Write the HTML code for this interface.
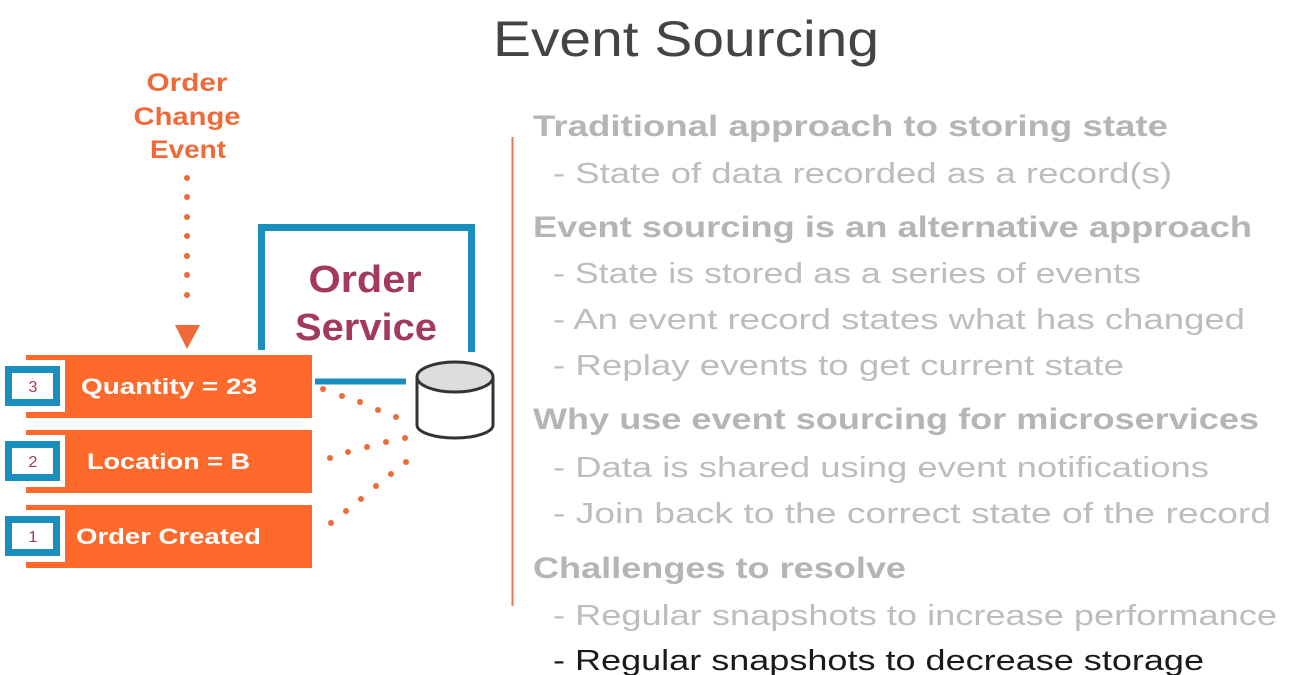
<!DOCTYPE html>
<html><head><meta charset="utf-8"><style>html,body{margin:0;padding:0;background:#fff}svg{display:block}</style></head>
<body>
<svg width="1296" height="675" viewBox="0 0 1296 675" xmlns="http://www.w3.org/2000/svg" font-family="Liberation Sans, sans-serif">
<text x="686" y="56" text-anchor="middle" font-size="50" fill="#444" textLength="386" lengthAdjust="spacingAndGlyphs">Event Sourcing</text>
<g font-weight="bold" fill="#ef6a38" font-size="25" text-anchor="middle">
<text x="187" y="91" textLength="81" lengthAdjust="spacingAndGlyphs">Order</text><text x="187" y="125" textLength="107" lengthAdjust="spacingAndGlyphs">Change</text><text x="188" y="158" textLength="76" lengthAdjust="spacingAndGlyphs">Event</text>
</g>
<g fill="#ef6a38">
<circle cx="187" cy="178" r="3"/><circle cx="187" cy="197" r="3"/><circle cx="187" cy="217" r="3"/><circle cx="187" cy="236" r="3"/><circle cx="187" cy="256" r="3"/><circle cx="187" cy="275" r="3"/><circle cx="187" cy="295" r="3"/>
<polygon points="175,325 200,325 187,349"/>
</g>
<path d="M261.5,350 V227.5 H471.5 V352" fill="none" stroke="#1a8fbd" stroke-width="7"/>
<line x1="315" y1="381.5" x2="406" y2="381.5" stroke="#1a8fbd" stroke-width="6"/>
<g font-weight="bold" fill="#a3395e" font-size="38" text-anchor="middle"><text x="365" y="292" textLength="113" lengthAdjust="spacingAndGlyphs">Order</text><text x="366" y="340" textLength="142" lengthAdjust="spacingAndGlyphs">Service</text></g>
<g fill="#fd6a2c"><rect x="26" y="355" width="286" height="63"/><rect x="26" y="430" width="286" height="63"/><rect x="26" y="505" width="286" height="63"/></g>
<g fill="#fff"><rect x="3" y="360" width="62" height="52"/><rect x="3" y="435" width="62" height="52"/><rect x="3" y="510" width="62" height="52"/></g>
<g fill="#fff" stroke="#1a8fbd" stroke-width="7"><rect x="8.5" y="369.5" width="48" height="33"/><rect x="8.5" y="444.5" width="48" height="33"/><rect x="8.5" y="519.5" width="48" height="33"/></g>
<g fill="#a3395e" font-size="16" text-anchor="middle"><text x="33" y="392">3</text><text x="33" y="467">2</text><text x="33" y="542">1</text></g>
<g fill="#fff" font-weight="bold" font-size="22"><text x="81" y="394" textLength="176" lengthAdjust="spacingAndGlyphs">Quantity = 23</text><text x="87" y="469" textLength="163" lengthAdjust="spacingAndGlyphs">Location = B</text><text x="76" y="544" textLength="185" lengthAdjust="spacingAndGlyphs">Order Created</text></g>
<g fill="#ef6a38">
<circle cx="323" cy="389" r="3"/><circle cx="342" cy="396" r="3"/><circle cx="360" cy="402" r="3"/><circle cx="378" cy="410" r="3"/><circle cx="396" cy="417" r="3"/>
<circle cx="330" cy="458" r="3"/><circle cx="348" cy="452" r="3"/><circle cx="367" cy="447" r="3"/><circle cx="386" cy="442" r="3"/><circle cx="405" cy="438" r="3"/>
<circle cx="331" cy="523" r="3"/><circle cx="346" cy="511" r="3"/><circle cx="361" cy="499" r="3"/><circle cx="376" cy="486" r="3"/><circle cx="391" cy="474" r="3"/><circle cx="406" cy="462" r="3"/>
</g>
<path d="M417,377 V425 A38,13 0 0 0 493,425 V377" fill="#fff" stroke="#333" stroke-width="3"/>
<ellipse cx="455" cy="377" rx="38" ry="15" fill="#ddd" stroke="#333" stroke-width="3"/>
<line x1="512.5" y1="137" x2="512.5" y2="606" stroke="#e07a55" stroke-width="2"/>
<g fill="#b5b5b5" font-weight="bold" font-size="30">
<text x="533" y="136" textLength="635" lengthAdjust="spacingAndGlyphs">Traditional approach to storing state</text>
<text x="533" y="237" textLength="719" lengthAdjust="spacingAndGlyphs">Event sourcing is an alternative approach</text>
<text x="533" y="429" textLength="726" lengthAdjust="spacingAndGlyphs">Why use event sourcing for microservices</text>
<text x="533" y="578" textLength="373" lengthAdjust="spacingAndGlyphs">Challenges to resolve</text>
</g>
<g fill="#bdbdbd" font-size="29">
<text x="553" y="183" textLength="619" lengthAdjust="spacingAndGlyphs">- State of data recorded as a record(s)</text>
<text x="553" y="283" textLength="588" lengthAdjust="spacingAndGlyphs">- State is stored as a series of events</text>
<text x="553" y="329" textLength="692" lengthAdjust="spacingAndGlyphs">- An event record states what has changed</text>
<text x="553" y="375" textLength="571" lengthAdjust="spacingAndGlyphs">- Replay events to get current state</text>
<text x="553" y="477" textLength="656" lengthAdjust="spacingAndGlyphs">- Data is shared using event notifications</text>
<text x="553" y="523" textLength="718" lengthAdjust="spacingAndGlyphs">- Join back to the correct state of the record</text>
<text x="553" y="625" textLength="724" lengthAdjust="spacingAndGlyphs">- Regular snapshots to increase performance</text>
</g>
<text x="553" y="670" fill="#1a1a1a" font-size="29" textLength="651" lengthAdjust="spacingAndGlyphs">- Regular snapshots to decrease storage</text>
</svg>
</body></html>
